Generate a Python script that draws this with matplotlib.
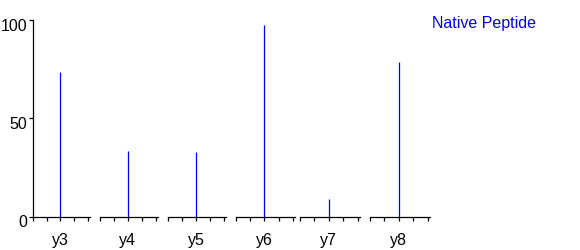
import matplotlib
matplotlib.use("Agg")
import matplotlib.pyplot as plt
from matplotlib.transforms import ScaledTranslation

plt.rcParams['font.family'] = ['Liberation Sans', 'DejaVu Sans']

ions = ['y3', 'y4', 'y5', 'y6', 'y7', 'y8']
intensities = [73.5, 33.2, 33.0, 97.4, 8.7, 78.6]
yticks = [0, 50, 100]
legend_text = 'Native Peptide'

W, H = 580, 251
fig = plt.figure(figsize=(W / 100, H / 100), dpi=100)

# pixel extents of each group axis (left, right)
extents = [(33, 90), (100, 158), (168, 226), (236, 295), (300, 360), (370, 430)]
top_px, bot_px = 21, 217.5

for i, (ion, val) in enumerate(zip(ions, intensities)):
    l, r = extents[i]
    ax = fig.add_axes([l / W, (H - bot_px) / H, (r - l) / W, (bot_px - top_px) / H])
    ax.set_xlim(-2, 2.15)
    ax.set_ylim(0, 100)
    ax.vlines([0], [0], [val], colors='#0000ff', linewidth=0.9)
    for s in ['top', 'right']:
        ax.spines[s].set_visible(False)
    ax.spines['bottom'].set_linewidth(0.9)
    ax.set_xticks([-2, -1, 0, 1, 2])
    ax.set_xticklabels(['', '', ion, '', ''])
    ax.tick_params(axis='x', direction='out', length=3, width=0.9, pad=8,
                   labelsize=11.5, colors='black')
    if i == 0:
        ax.spines['left'].set_linewidth(0.9)
        ax.set_yticks(yticks)
        ax.set_yticklabels([str(v) for v in yticks])
        ax.tick_params(axis='y', direction='out', length=3, width=0.9, pad=1,
                       labelsize=11.5)
        off = ScaledTranslation(0, -4 / 100, fig.dpi_scale_trans)
        for lab in ax.get_yticklabels():
            lab.set_transform(lab.get_transform() + off)
    else:
        ax.spines['left'].set_visible(False)
        ax.set_yticks([])
    ax.patch.set_visible(False)

fig.text(432 / W, (H - 28) / H, legend_text, color='#0000ff', fontsize=11.5,
         ha='left', va='baseline')

fig.savefig('out.png', dpi=100)
